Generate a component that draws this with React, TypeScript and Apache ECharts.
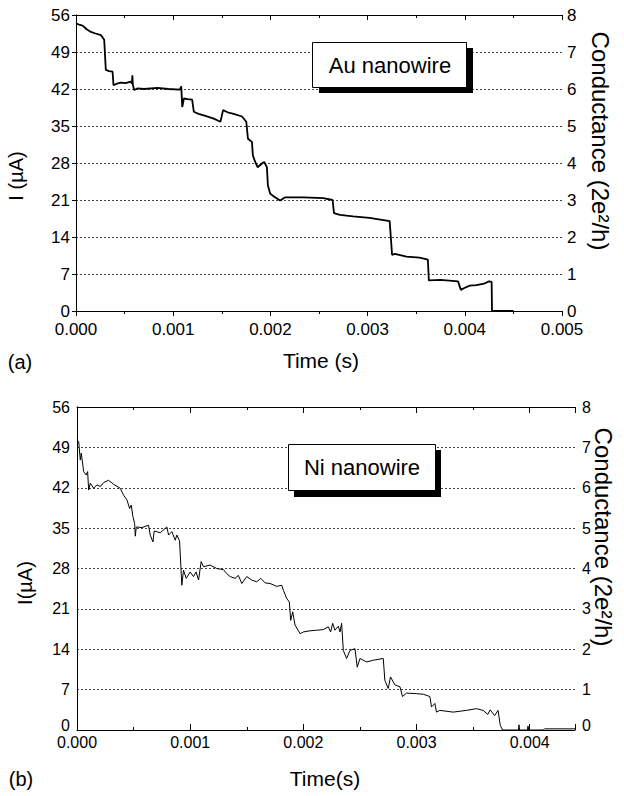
import React, { useEffect, useRef } from "react";
import * as echarts from "echarts";

// ---- Data (time in ms, current in µA) ----
const auTimeMs = [
  0, 0.03, 0.068, 0.11, 0.154, 0.2, 0.256, 0.29, 0.307, 0.34, 0.376, 0.386, 0.42, 0.461, 0.51,
  0.564, 0.575, 0.58, 0.585, 0.598, 0.632, 0.7, 0.837, 0.95, 1.069, 1.083, 1.093, 1.11, 1.15,
  1.195, 1.212, 1.26, 1.315, 1.417, 1.486, 1.513, 1.56, 1.622, 1.708, 1.752, 1.769, 1.81, 1.82,
  1.844, 1.868, 1.913, 1.936, 1.964, 1.974, 1.998, 2.032, 2.1, 2.152, 2.34, 2.544, 2.64, 2.654,
  2.715, 2.85, 3.02, 3.227, 3.252, 3.28, 3.4, 3.535, 3.62, 3.63, 3.75, 3.93, 3.96, 3.99, 4.05,
  4.12, 4.2, 4.25, 4.276, 4.28, 4.5,
];
const auCurrent = [
  54.4, 54.2, 54.0, 53.3, 52.8, 52.5, 52.2, 51.3, 45.6, 45.4, 45.3, 42.7, 43.0, 43.2, 43.1,
  43.4, 43.0, 44.6, 42.8, 41.8, 42.1, 42.0, 42.2, 42.0, 41.9, 42.5, 38.6, 40.2, 40.1,
  40.0, 37.7, 37.3, 37.0, 36.4, 35.8, 38.0, 37.6, 37.3, 36.8, 35.8, 32.6, 32.0, 29.4,
  28.2, 27.2, 27.9, 28.2, 27.2, 23.8, 22.2, 21.7, 20.9, 21.5, 21.5, 21.35, 21.0, 18.5,
  18.2, 17.9, 17.6, 17.0, 10.6, 10.8, 10.3, 10.1, 9.7, 5.8, 5.9, 5.6, 4.0, 4.3, 4.8,
  4.9, 5.2, 5.6, 5.5, 0, 0,
];

const niTimeMs = [
  0, 0.015, 0.029, 0.038, 0.059, 0.082, 0.094, 0.103, 0.118, 0.147, 0.176, 0.206, 0.235, 0.279,
  0.324, 0.382, 0.412, 0.441, 0.465, 0.479, 0.494, 0.509, 0.515, 0.524, 0.574, 0.632, 0.647,
  0.671, 0.682, 0.735, 0.794, 0.809, 0.838, 0.868, 0.882, 0.906, 0.918, 0.926, 0.941, 0.965,
  1.0, 1.029, 1.053, 1.074, 1.097, 1.118, 1.176, 1.235, 1.294, 1.324, 1.353, 1.397, 1.426,
  1.456, 1.5, 1.544, 1.588, 1.624, 1.662, 1.706, 1.765, 1.809, 1.824, 1.853, 1.876, 1.888,
  1.906, 1.926, 1.971, 2.0, 2.059, 2.118, 2.176, 2.22, 2.241, 2.259, 2.279, 2.309, 2.324,
  2.338, 2.353, 2.382, 2.412, 2.456, 2.476, 2.5, 2.559, 2.618, 2.706, 2.72, 2.75, 2.77, 2.81,
  2.853, 2.876, 2.912, 3.0, 3.059, 3.118, 3.132, 3.162, 3.176, 3.206, 3.324, 3.44, 3.53, 3.588,
  3.63, 3.65, 3.69, 3.72, 3.74, 3.76, 3.9, 3.905, 3.91, 3.98, 3.985, 3.99, 4.12, 4.13, 4.4,
];
const niCurrent = [
  50.3, 50.0, 46.8, 48.0, 44.8, 44.2, 44.8, 41.6, 42.8, 41.9, 42.5, 42.2, 42.9, 43.3,
  42.6, 41.9, 40.7, 39.9, 38.4, 39.0, 37.0, 35.8, 33.6, 35.2, 35.1, 35.5, 33.8,
  32.6, 34.5, 34.2, 35.2, 33.8, 34.4, 32.9, 33.8, 32.8, 28.3, 25.1, 27.7, 26.3,
  27.4, 26.6, 27.4, 26.0, 29.2, 28.3, 28.6, 28.0, 27.8, 27.1, 26.6, 26.3, 26.8,
  25.4, 26.6, 26.0, 25.7, 26.3, 25.5, 25.4, 24.9, 25.1, 24.2, 22.8, 22.2, 19.0,
  20.5, 18.2, 16.7, 17.0, 17.2, 17.3, 17.4, 17.9, 17.0, 18.5, 17.3, 18.0, 17.0,
  18.5, 13.8, 12.4, 13.8, 14.1, 10.9, 12.4, 11.8, 12.1, 12.4, 8.6, 7.2, 9.2, 7.8,
  7.5, 5.8, 6.4, 6.3, 6.2, 5.8, 4.0, 4.6, 3.1, 3.4, 3.1, 3.4, 3.7, 3.4,
  2.7, 3.5, 2.5, 3.4, 0.8, 0, 0, 0.9, 0, 0, 0.7, 0, 0, 0.2, 0.2,
];

const currentTicks = [0, 7, 14, 21, 28, 35, 42, 49, 56];
const conductanceTicks = [0, 1, 2, 3, 4, 5, 6, 7, 8];

const FONT = "'Liberation Sans', Arial, Helvetica, sans-serif";

function pairs(t: number[], v: number[]) {
  return t.map((x, i) => [x / 1000, v[i]]);
}

function timeLabel(v: number) {
  const k = v / 0.001;
  if (Math.abs(k - Math.round(k)) > 1e-6) return "";
  return v.toFixed(3);
}

function lowLabel(v: number) {
  return v === 0 ? "{z|0}" : String(v);
}

export default function App() {
  const ref = useRef<HTMLDivElement>(null);
  useEffect(() => {
    if (!ref.current) return;
    const chart = echarts.init(ref.current, undefined, { renderer: "svg" });
    const black = { color: "#000", width: 1 };
    const split = { show: true, lineStyle: { color: "#444", width: 1, type: [2, 2] as any } };
    const zRich = { z: { fontSize: 16, fontFamily: FONT, color: "#000", padding: [0, 0, 9, 0] } };
    const xBase = (grid: number, max: number, fs: number) => ({
      type: "value" as const,
      gridIndex: grid,
      min: 0,
      max,
      interval: 0.001,
      axisLine: { show: true, onZero: false, lineStyle: black },
      splitLine: { show: false },
      minorSplitLine: { show: false },
      axisLabel: { show: false, fontSize: fs, color: "#000", fontFamily: FONT, formatter: timeLabel },
    });
    const option: any = {
      animation: false,
      backgroundColor: "#fff",
      grid: [
        { left: 76, right: 62, top: 15, bottom: 485, show: false },
        { left: 77, right: 49, top: 407, bottom: 66, show: false },
      ],
      xAxis: [
        {
          ...xBase(0, 0.005, 17),
          position: "bottom",
          axisTick: { show: true, inside: false, length: 5, lineStyle: black },
          minorTick: { show: true, splitNumber: 2, length: 3, lineStyle: black },
          axisLabel: { show: true, fontSize: 17, color: "#000", fontFamily: FONT, margin: 10, formatter: timeLabel },
        },
        {
          ...xBase(0, 0.005, 17),
          position: "top",
          axisTick: { show: true, inside: true, length: 5, lineStyle: black },
          minorTick: { show: true, splitNumber: 2, length: 3, lineStyle: black },
        },
        {
          ...xBase(1, 0.0044, 16),
          position: "bottom",
          axisTick: { show: true, inside: true, length: 6, lineStyle: black },
          minorTick: { show: true, splitNumber: 2, length: 3, lineStyle: black },
          axisLabel: { show: true, fontSize: 16, lineHeight: 12, color: "#000", fontFamily: FONT, margin: 6, formatter: timeLabel },
        },
        {
          ...xBase(1, 0.0044, 16),
          position: "top",
          axisTick: { show: true, inside: true, length: 6, lineStyle: black },
          minorTick: { show: true, splitNumber: 2, length: 3, lineStyle: black },
        },
      ],
      yAxis: [
        {
          type: "value",
          gridIndex: 0,
          position: "left",
          min: currentTicks[0],
          max: currentTicks[currentTicks.length - 1],
          interval: currentTicks[1] - currentTicks[0],
          axisLine: { show: true, lineStyle: black },
          axisTick: { show: true, inside: false, length: 4, lineStyle: black },
          axisLabel: { fontSize: 17, color: "#000", fontFamily: FONT, margin: 6 },
          splitLine: split,
        },
        {
          type: "value",
          gridIndex: 0,
          position: "right",
          min: conductanceTicks[0],
          max: conductanceTicks[conductanceTicks.length - 1],
          interval: conductanceTicks[1] - conductanceTicks[0],
          axisLine: { show: true, lineStyle: black },
          axisTick: { show: true, inside: true, length: 4, lineStyle: black },
          axisLabel: { fontSize: 17, color: "#000", fontFamily: FONT, margin: 5 },
          splitLine: { show: false },
        },
        {
          type: "value",
          gridIndex: 1,
          position: "left",
          min: currentTicks[0],
          max: currentTicks[currentTicks.length - 1],
          interval: currentTicks[1] - currentTicks[0],
          axisLine: { show: true, lineStyle: black },
          axisTick: { show: false },
          axisLabel: { fontSize: 16, color: "#000", fontFamily: FONT, margin: 7, formatter: lowLabel, rich: zRich },
          splitLine: split,
        },
        {
          type: "value",
          gridIndex: 1,
          position: "right",
          min: conductanceTicks[0],
          max: conductanceTicks[conductanceTicks.length - 1],
          interval: conductanceTicks[1] - conductanceTicks[0],
          axisLine: { show: true, lineStyle: black },
          axisTick: { show: false },
          axisLabel: { fontSize: 16, color: "#000", fontFamily: FONT, margin: 7, formatter: lowLabel, rich: zRich },
          splitLine: { show: false },
        },
      ],
      series: [
        {
          type: "line",
          xAxisIndex: 0,
          yAxisIndex: 0,
          data: pairs(auTimeMs, auCurrent),
          showSymbol: false,
          symbol: "none",
          lineStyle: { color: "#000", width: 1.8 },
          z: 3,
        },
        {
          type: "line",
          xAxisIndex: 2,
          yAxisIndex: 2,
          data: pairs(niTimeMs, niCurrent),
          showSymbol: false,
          symbol: "none",
          lineStyle: { color: "#000", width: 1 },
          z: 3,
        },
      ],
      graphic: [
        // Au box
        { type: "rect", shape: { x: 319, y: 48, width: 154, height: 45 }, style: { fill: "#000" }, z: 10 },
        { type: "rect", shape: { x: 312.5, y: 42.5, width: 154, height: 45 }, style: { fill: "#fff", stroke: "#000", lineWidth: 1 }, z: 11 },
        { type: "text", x: 390, y: 65, style: { text: "Au nanowire", fontSize: 22, fontFamily: FONT, fill: "#000", textAlign: "center", textVerticalAlign: "middle" }, z: 12 },
        // Ni box
        { type: "rect", shape: { x: 294, y: 450, width: 147, height: 47 }, style: { fill: "#000" }, z: 10 },
        { type: "rect", shape: { x: 288.5, y: 444.5, width: 147, height: 46 }, style: { fill: "#fff", stroke: "#000", lineWidth: 1 }, z: 11 },
        { type: "text", x: 362, y: 467, style: { text: "Ni nanowire", fontSize: 22, fontFamily: FONT, fill: "#000", textAlign: "center", textVerticalAlign: "middle" }, z: 12 },
        // axis titles, chart a
        { type: "text", x: 16, y: 176, rotation: Math.PI / 2, style: { text: "I (µA)", fontSize: 20, fontFamily: FONT, fill: "#000", textAlign: "center", textVerticalAlign: "middle" } },
        { type: "text", x: 321, y: 360, style: { text: "Time (s)", fontSize: 21, fontFamily: FONT, fill: "#000", textAlign: "center", textVerticalAlign: "middle" } },
        { type: "text", x: 600, y: 141, rotation: -Math.PI / 2, style: { text: "Conductance (2e²/h)", fontSize: 24, fontFamily: FONT, fill: "#000", textAlign: "center", textVerticalAlign: "middle" } },
        { type: "text", x: 20, y: 362, style: { text: "(a)", fontSize: 20, fontFamily: FONT, fill: "#000", textAlign: "center", textVerticalAlign: "middle" } },
        // axis titles, chart b
        { type: "text", x: 25, y: 583, rotation: Math.PI / 2, style: { text: "I(µA)", fontSize: 20, fontFamily: FONT, fill: "#000", textAlign: "center", textVerticalAlign: "middle" } },
        { type: "text", x: 325, y: 778, style: { text: "Time(s)", fontSize: 21, fontFamily: FONT, fill: "#000", textAlign: "center", textVerticalAlign: "middle" } },
        { type: "text", x: 603, y: 537, rotation: -Math.PI / 2, style: { text: "Conductance (2e²/h)", fontSize: 24, fontFamily: FONT, fill: "#000", textAlign: "center", textVerticalAlign: "middle" } },
        { type: "text", x: 21, y: 779, style: { text: "(b)", fontSize: 20, fontFamily: FONT, fill: "#000", textAlign: "center", textVerticalAlign: "middle" } },
      ],
    };
    chart.setOption(option);
    return () => chart.dispose();
  }, []);
  return (
    <div
      ref={ref}
      style={{ position: "fixed", left: 0, top: 0, width: 624, height: 796, background: "#fff" }}
    />
  );
}
